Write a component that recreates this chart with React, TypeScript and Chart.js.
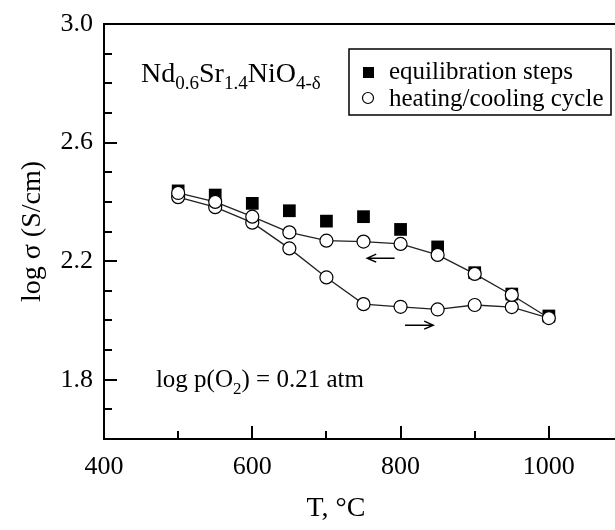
import React, { useEffect, useRef } from "react";
import { Chart, registerables } from "chart.js";

Chart.register(...registerables);

const FONT = '"Liberation Serif", "Times New Roman", serif';

// Equilibration steps (filled squares)
const eqTemps = [500, 550, 600, 650, 700, 750, 800, 850, 900, 950, 1000];
const eqLogSigma = [2.437, 2.423, 2.395, 2.37, 2.335, 2.35, 2.307, 2.248, 2.161, 2.089, 2.015];

// Heating branch (open circles), 500 -> 1000 °C
const heatTemps = [500, 550, 600, 650, 700, 750, 800, 850, 900, 950, 1000];
const heatLogSigma = [2.416, 2.382, 2.33, 2.243, 2.145, 2.055, 2.046, 2.037, 2.052, 2.045, 2.008];

// Cooling branch (open circles), 950 -> 500 °C
const coolTemps = [950, 900, 850, 800, 750, 700, 650, 600, 550, 500];
const coolLogSigma = [2.086, 2.157, 2.221, 2.258, 2.266, 2.269, 2.297, 2.35, 2.4, 2.43];

const xMajorTicks = [400, 600, 800, 1000];
const xMinorTicks = [500, 700, 900];
const yMajorTicks = [1.8, 2.2, 2.6, 3.0];
const yMinorTicks = [1.7, 1.9, 2.0, 2.1, 2.3, 2.4, 2.5, 2.7, 2.8, 2.9];

const legendLabels = ["equilibration steps", "heating/cooling cycle"];
const xTitle = "T, °C";
const yTitle = "log σ (S/cm)";

function drawRich(ctx: CanvasRenderingContext2D, parts: [string, boolean][], x: number, y: number, size: number) {
  let cx = x;
  for (const [txt, sub] of parts) {
    const s = sub ? Math.round(size * 0.68) : size;
    ctx.font = `${s}px ${FONT}`;
    ctx.fillText(txt, cx, sub ? y + size * 0.26 : y);
    cx += ctx.measureText(txt).width;
  }
}

function drawArrow(ctx: CanvasRenderingContext2D, x1: number, x2: number, y: number) {
  const dir = Math.sign(x2 - x1);
  ctx.beginPath();
  ctx.moveTo(x1, y);
  ctx.lineTo(x2, y);
  ctx.moveTo(x2 - dir * 9, y - 4);
  ctx.lineTo(x2, y);
  ctx.lineTo(x2 - dir * 9, y + 4);
  ctx.stroke();
}

const decorPlugin = {
  id: "decor",
  afterDraw(chart: any) {
    const ctx: CanvasRenderingContext2D = chart.ctx;
    const xs = chart.scales.x;
    const ys = chart.scales.y;
    const { left, right, top, bottom } = chart.chartArea;
    ctx.save();
    ctx.strokeStyle = "#000";
    ctx.fillStyle = "#000";
    ctx.lineWidth = 2;
    // top frame
    ctx.beginPath();
    ctx.moveTo(left - 1, top);
    ctx.lineTo(right, top);
    ctx.moveTo(right, top);
    ctx.lineTo(right, bottom);
    ctx.stroke();
    // inward ticks
    ctx.beginPath();
    for (const v of yMajorTicks) {
      const p = Math.round(ys.getPixelForValue(v));
      ctx.moveTo(left, p);
      ctx.lineTo(left + 13, p);
    }
    for (const v of yMinorTicks) {
      const p = Math.round(ys.getPixelForValue(v));
      ctx.moveTo(left, p);
      ctx.lineTo(left + 8, p);
    }
    for (const v of xMajorTicks) {
      const p = Math.round(xs.getPixelForValue(v));
      ctx.moveTo(p, bottom);
      ctx.lineTo(p, bottom - 13);
    }
    for (const v of xMinorTicks) {
      const p = Math.round(xs.getPixelForValue(v));
      ctx.moveTo(p, bottom);
      ctx.lineTo(p, bottom - 8);
    }
    ctx.stroke();

    // axis titles
    ctx.font = `28px ${FONT}`;
    ctx.textAlign = "center";
    ctx.textBaseline = "middle";
    ctx.fillText(xTitle, 336, 509);
    ctx.save();
    ctx.translate(33, (top + bottom) / 2);
    ctx.rotate(-Math.PI / 2);
    ctx.fillText(yTitle, 0, 0);
    ctx.restore();

    // annotations
    ctx.textAlign = "left";
    ctx.textBaseline = "alphabetic";
    drawRich(
      ctx,
      [["Nd", false], ["0.6", true], ["Sr", false], ["1.4", true], ["NiO", false], ["4-δ", true]],
      xs.getPixelForValue(450),
      ys.getPixelForValue(2.804),
      28
    );
    drawRich(
      ctx,
      [["log p(O", false], ["2", true], [") = 0.21 atm", false]],
      xs.getPixelForValue(470),
      ys.getPixelForValue(1.775),
      25
    );

    // arrows
    ctx.lineWidth = 1.5;
    drawArrow(ctx, xs.getPixelForValue(792), xs.getPixelForValue(755), ys.getPixelForValue(2.21));
    drawArrow(ctx, xs.getPixelForValue(806), xs.getPixelForValue(844), ys.getPixelForValue(1.984));

    // legend
    const bx = 349, by = 49, bw = 262, bh = 66;
    ctx.lineWidth = 1.5;
    ctx.strokeRect(bx, by, bw, bh);
    ctx.fillRect(363, 67, 11, 11);
    ctx.beginPath();
    ctx.arc(368, 98, 5.5, 0, Math.PI * 2);
    ctx.fillStyle = "#fff";
    ctx.fill();
    ctx.lineWidth = 1.2;
    ctx.stroke();
    ctx.fillStyle = "#000";
    ctx.font = `25px ${FONT}`;
    ctx.textBaseline = "middle";
    ctx.fillText(legendLabels[0], 389, 72);
    ctx.fillText(legendLabels[1], 389, 99);
    ctx.restore();
  },
};

export default function App() {
  const ref = useRef<HTMLCanvasElement | null>(null);
  useEffect(() => {
    if (!ref.current) return;
    const cyclePoints = [
      ...heatTemps.map((t, i) => ({ x: t, y: heatLogSigma[i] })),
      ...coolTemps.map((t, i) => ({ x: t, y: coolLogSigma[i] })),
    ];
    const chart = new Chart(ref.current, {
      type: "scatter",
      data: {
        datasets: [
          {
            label: legendLabels[0],
            data: eqTemps.map((t, i) => ({ x: t, y: eqLogSigma[i] })),
            pointStyle: "rect",
            pointRadius: 9,
            pointBackgroundColor: "#000",
            pointBorderColor: "#000",
            pointBorderWidth: 0,
            showLine: false,
            order: 2,
          } as any,
          {
            label: legendLabels[1],
            data: cyclePoints,
            showLine: true,
            borderColor: "#222",
            borderWidth: 1.3,
            tension: 0,
            pointStyle: "circle",
            pointRadius: 6.5,
            pointBackgroundColor: "#fff",
            pointBorderColor: "#000",
            pointBorderWidth: 1.2,
            order: 1,
          } as any,
        ],
      },
      options: {
        animation: false,
        responsive: false,
        events: [],
        layout: { padding: { left: 0, top: 24, right: 17, bottom: 0 } },
        plugins: { legend: { display: false }, tooltip: { enabled: false } },
        scales: {
          x: {
            type: "linear",
            min: 400,
            max: 1100,
            position: "bottom",
            grid: { display: true, drawOnChartArea: false, drawTicks: false },
            border: { display: true, width: 2, color: "#000" },
            ticks: {
              color: "#000",
              font: { family: FONT, size: 26, lineHeight: 1 },
              padding: 15,
              maxRotation: 0,
              autoSkip: false,
              callback: (v: any) => String(v),
            },
            afterBuildTicks: (s: any) => {
              s.ticks = xMajorTicks.map((v) => ({ value: v }));
            },
            afterFit: (s: any) => {
              s.height = 91;
            },
          },
          y: {
            type: "linear",
            min: 1.6,
            max: 3.0,
            grid: { display: true, drawOnChartArea: false, drawTicks: false },
            border: { display: true, width: 2, color: "#000" },
            ticks: {
              color: "#000",
              font: { family: FONT, size: 26, lineHeight: 1 },
              padding: 11,
              autoSkip: false,
              callback: (v: any) => Number(v).toFixed(1),
            },
            afterBuildTicks: (s: any) => {
              s.ticks = yMajorTicks.map((v) => ({ value: v }));
            },
            afterFit: (s: any) => {
              s.width = 104;
            },
          },
        },
      },
      plugins: [decorPlugin],
    });
    return () => chart.destroy();
  }, []);
  return (
    <div style={{ position: "fixed", left: 0, top: 0, width: 615, height: 530, overflow: "hidden", background: "#fff" }}>
      <canvas ref={ref} width={640} height={530} style={{ display: "block", width: 640, height: 530 }} />
    </div>
  );
}
